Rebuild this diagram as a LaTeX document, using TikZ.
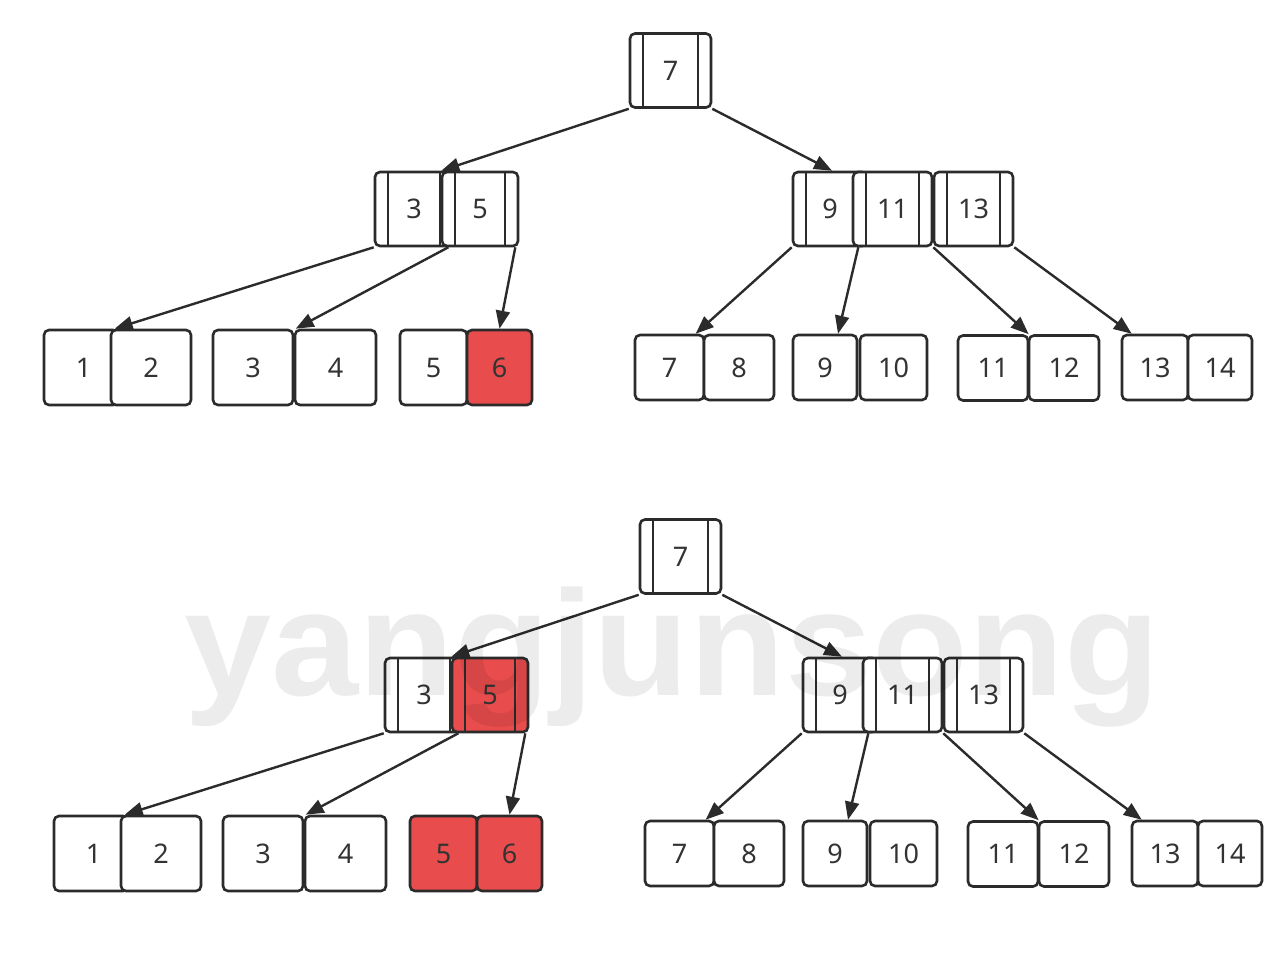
\documentclass[tikz,border=0pt]{standalone}
\usepackage{fontspec}
\setmainfont{Noto Sans}
\newfontfamily\wmfont{Liberation Sans}
\usetikzlibrary{arrows.meta,calc}
\definecolor{ln}{HTML}{2B2B2B}
\definecolor{tx}{HTML}{333333}
\definecolor{rd}{HTML}{E84C4C}
\tikzset{
  box/.style={draw=ln, line width=2.6pt, rounded corners=5pt, fill=white, inner sep=0pt,
    text=tx, font=\fontsize{27}{30}\selectfont, anchor=center},
  leafA/.style={box, minimum height=75pt},
  leafB/.style={box, minimum height=65pt},
  inode/.style={box, minimum height=74pt,
    path picture={
      \draw[ln,line width=2.6pt] ([xshift=13pt]path picture bounding box.north west) -- ([xshift=13pt]path picture bounding box.south west);
      \draw[ln,line width=2.6pt] ([xshift=-13pt]path picture bounding box.north east) -- ([xshift=-13pt]path picture bounding box.south east);
    }},
  link/.style={draw=ln, line width=2.4pt, -{Triangle[length=18pt,width=14pt]}},
  wmark/.style={text=black, text opacity=0.075, font=\wmfont\fontsize{150}{150}\selectfont\bfseries, inner sep=0pt}
}
\newcommand\btree[3]{%
  \node[inode, minimum width=81pt] (root) at (670.5,70.5) {7};
  \node[inode, minimum width=78pt] (n3) at (414,209) {3};
  \node[inode, minimum width=76pt, fill=#1] (n5) at (480,209) {5};
  \node[inode, minimum width=74pt] (n9) at (830,209) {9};
  \node[inode, minimum width=79pt] (n11) at (892.5,209) {11};
  \node[inode, minimum width=79pt] (n13) at (973.5,209) {13};
  \node[leafA, minimum width=74pt] (l1) at (81,367.5) {\hspace*{5pt}1};
  \node[leafA, minimum width=80pt] (l2) at (151,367.5) {2};
  \node[leafA, minimum width=80pt] (l3) at (253,367.5) {3};
  \node[leafA, minimum width=81pt] (l4) at (335.5,367.5) {4};
  \node[leafA, minimum width=67pt, fill=#2] (l5) at (433.5,367.5) {5};
  \node[leafA, minimum width=65pt, fill=#3] (l6) at (499.5,367.5) {6};
  \node[leafB, minimum width=69pt] (l7) at (669.5,367.5) {7};
  \node[leafB, minimum width=70pt] (l8) at (739,367.5) {8};
  \node[leafB, minimum width=64pt] (l9) at (825,367.5) {9};
  \node[leafB, minimum width=67pt] (l10) at (893.5,367.5) {10};
  \node[leafB, minimum width=70pt] (l11) at (993,368) {11};
  \node[leafB, minimum width=70pt] (l12) at (1064,368) {12};
  \node[leafB, minimum width=66pt] (l13) at (1155,367.5) {13};
  \node[leafB, minimum width=64pt] (l14) at (1220,367.5) {14};
  \draw[link] (root.south west) -- ($(n3.north east)+(-13,0)$);
  \draw[link] (root.south east) -- ($(n9.north)+(2,0)$);
  \draw[link] (n3.south west) -- ($(l2.north west)+(5,0)$);
  \draw[link] ($(n3.south east)+(-6,0)$) -- ($(l4.north west)+(2,0)$);
  \draw[link] ($(n5.south east)+(-4,0)$) -- (l6.north);
  \draw[link] (n9.south west) -- ($(l8.north west)+(-7,0)$);
  \draw[link] ($(n9.south east)+(-10,0)$) -- ($(l9.north)+(13,0)$);
  \draw[link] (n11.south east) -- ($(l12.north west)+(1,0)$);
  \draw[link] (n13.south east) -- ($(l13.north west)+(11,0)$);
}
\begin{document}
\begin{tikzpicture}[x=1pt,y=-1pt]
  \useasboundingbox[fill=white] (0,0) rectangle (1278,970);
  \begin{scope}[name prefix=t-]
    \btree{white}{white}{rd}
  \end{scope}
  \begin{scope}[shift={(10,486)}, name prefix=b-]
    \btree{rd}{rd}{rd}
  \end{scope}
  \node[wmark, anchor=base, xscale=1.045] (wm) at (672,695) {yangjunsong};
\end{tikzpicture}
\end{document}
